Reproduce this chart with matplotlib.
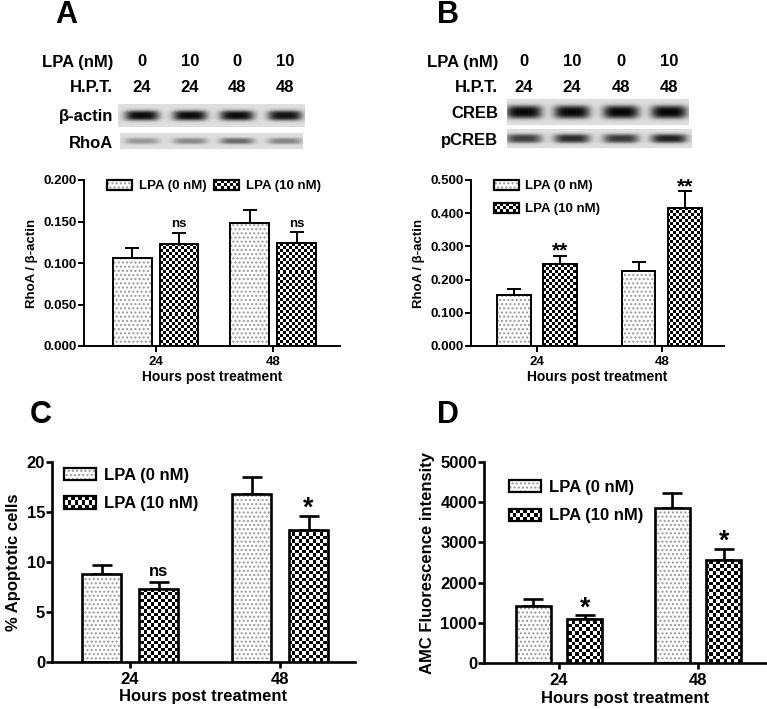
import numpy as np
import matplotlib.pyplot as plt
from matplotlib.patches import Patch, Rectangle
from matplotlib.legend_handler import HandlerBase

plt.rcParams['font.family'] = ['Liberation Sans', 'DejaVu Sans']
plt.rcParams['font.weight'] = 'bold'
plt.rcParams['hatch.linewidth'] = 1.0

# ---- data ----
groups = ['24', '48']
series = ['LPA (0 nM)', 'LPA (10 nM)']

rhoa_0 = [0.106, 0.148]
rhoa_0_err = [0.012, 0.016]
rhoa_10 = [0.123, 0.124]
rhoa_10_err = [0.013, 0.013]
rhoa_marks = ['ns', 'ns']

pcreb_0 = [0.155, 0.226]
pcreb_0_err = [0.018, 0.026]
pcreb_10 = [0.246, 0.417]
pcreb_10_err = [0.026, 0.049]
pcreb_marks = ['**', '**']

apop_0 = [8.8, 16.8]
apop_0_err = [0.95, 1.75]
apop_10 = [7.3, 13.2]
apop_10_err = [0.75, 1.45]
apop_marks = ['ns', '*']

amc_0 = [1420, 3860]
amc_0_err = [160, 380]
amc_10 = [1085, 2555]
amc_10_err = [100, 275]
amc_marks = ['*', '*']

lanes_lpa = ['0', '10', '0', '10']
lanes_hpt = ['24', '24', '48', '48']
actin_bands = [0.95, 0.95, 0.95, 0.92]
rhoa_bands = [0.32, 0.38, 0.52, 0.40]
creb_bands = [0.97, 0.97, 0.97, 0.97]
pcreb_bands = [0.72, 0.80, 0.74, 0.85]

W, H = 767, 709
fig = plt.figure(figsize=(W / 100, H / 100), dpi=100)


def px_axes(x0, y0, x1, y1):
    return fig.add_axes([x0 / W, 1 - y1 / H, (x1 - x0) / W, (y1 - y0) / H])


def px_text(x, y, s, **kw):
    fig.text(x / W, 1 - y / H, s, va='center', fontweight='bold', **kw)


def blot(x0, y0, x1, y1, lane_px, bands, half_w, half_h, bg=0.87):
    ax = px_axes(x0, y0, x1, y1)
    w, h = x1 - x0, y1 - y0
    xx, yy = np.meshgrid(np.arange(w) + 0.5, np.arange(h) + 0.5)
    img = np.full((h, w), bg)
    for c, k in zip(lane_px, bands):
        prof = np.exp(-np.abs((xx - (c - x0)) / half_w) ** 4) * np.exp(-np.abs((yy - h / 2) / half_h) ** 3)
        img = img - k * bg * prof
    ax.imshow(img, cmap='gray', vmin=0, vmax=1, aspect='auto', interpolation='bilinear')
    ax.axis('off')


class Swatch(HandlerBase):
    def __init__(self, kind, sq):
        super().__init__()
        self.kind = kind
        self.sq = sq

    def create_artists(self, legend, orig_handle, xdescent, ydescent, width, height, fontsize, trans):
        x0, y0 = -xdescent, -ydescent
        arts = []
        if self.kind == 'dots':
            arts.append(Rectangle((x0, y0), width, height, facecolor='white', edgecolor='#999999',
                                  hatch='....', lw=0, transform=trans))
        else:
            arts.append(Rectangle((x0, y0), width, height, facecolor='white', lw=0, transform=trans))
            nx = max(1, int(round(width / self.sq)))
            ny = max(1, int(round(height / self.sq)))
            sx, sy = width / nx, height / ny
            for i in range(nx):
                for j in range(ny):
                    if (i + j) % 2 == 0:
                        arts.append(Rectangle((x0 + i * sx, y0 + j * sy), sx, sy, facecolor='black',
                                              lw=0, transform=trans))
        arts.append(Rectangle((x0, y0), width, height, fill=False, edgecolor='black', lw=1.6, transform=trans))
        return arts


def bar_panel(ax, v0, e0, v1, e1, marks, ymax, step, fmt, off, w, xlim, fs, lw, cap, sq, xlab_fs,
              leg_anchor, leg_ncol, leg_fs):
    x = np.arange(len(groups))
    zeros = np.zeros(len(groups))
    ax.errorbar(x - off, v0, yerr=[zeros, e0], fmt='none', ecolor='black', elinewidth=lw,
                capsize=cap, capthick=lw, zorder=1)
    ax.errorbar(x + off, v1, yerr=[zeros, e1], fmt='none', ecolor='black', elinewidth=lw,
                capsize=cap, capthick=lw, zorder=1)
    ax.bar(x - off, v0, w, color='white', edgecolor='#999999', hatch='....', linewidth=0, zorder=2)
    ax.bar(x - off, v0, w, fill=False, edgecolor='black', linewidth=lw, zorder=4)
    fills = ax.bar(x + off, v1, w, color='white', linewidth=0, zorder=2)
    ax.set_xlim(xlim)
    ax.set_ylim(0, ymax)
    pos = ax.get_position()
    nx = int(pos.width * W / sq)
    ny = int(pos.height * H / sq)
    checker = np.add.outer(np.arange(ny), np.arange(nx)) % 2
    for b in fills:
        im = ax.imshow(checker, cmap='gray', vmin=0, vmax=1, extent=(xlim[0], xlim[1], 0, ymax),
                       aspect='auto', interpolation='nearest', zorder=3)
        im.set_clip_path(b)
    ax.bar(x + off, v1, w, fill=False, edgecolor='black', linewidth=lw, zorder=4)
    ax.set_xlim(xlim)
    ax.set_ylim(0, ymax)
    for xi, v, e, m in zip(x + off, v1, e1, marks):
        if '*' in m:
            ax.annotate(m, (xi, v + e), xytext=(0, -fs * 0.35), textcoords='offset points', ha='center',
                        va='bottom', fontsize=fs * 1.6, fontweight='bold')
        else:
            ax.annotate(m, (xi, v + e), xytext=(0, 2), textcoords='offset points', ha='center',
                        va='bottom', fontsize=fs, fontweight='bold')
    ax.set_yticks(np.arange(0, ymax + step / 2, step))
    ax.set_yticklabels([fmt % t for t in np.arange(0, ymax + step / 2, step)])
    ax.set_xticks(x)
    ax.set_xticklabels(groups)
    for s in ['top', 'right']:
        ax.spines[s].set_visible(False)
    for s in ['left', 'bottom']:
        ax.spines[s].set_linewidth(lw)
    ax.tick_params(axis='y', length=4, width=lw, pad=1, labelsize=fs)
    ax.tick_params(axis='x', length=4, width=lw, pad=3, labelsize=fs)
    ax.set_xlabel('Hours post treatment', fontsize=xlab_fs, fontweight='bold', labelpad=2)
    h0 = Patch(label=series[0])
    h1 = Patch(label=series[1])
    ax.legend(handles=[h0, h1], handler_map={h0: Swatch('dots', sq), h1: Swatch('checker', sq * 0.75)},
              loc='upper left', bbox_to_anchor=leg_anchor, ncol=leg_ncol, frameon=False,
              fontsize=leg_fs, borderpad=0, borderaxespad=0, handlelength=1.9, handleheight=0.75,
              handletextpad=0.5, columnspacing=0.6, labelspacing=0.8)


# ---- panel letters ----
for lab, x, y in [('A', 55, 15), ('B', 437, 15), ('C', 30, 415), ('D', 437, 415)]:
    px_text(x, y, lab, fontsize=22, ha='left')

# ---- blots ----
lanesA = [142, 190, 237, 285]
lanesB = [524, 572, 621, 669]
for lanes, rx in [(lanesA, 113), (lanesB, 498)]:
    px_text(rx, 62, 'LPA (nM)', fontsize=12, ha='right')
    px_text(rx, 87, 'H.P.T.', fontsize=12, ha='right')
    for c, a, t in zip(lanes, lanes_lpa, lanes_hpt):
        px_text(c, 62, a, fontsize=12, ha='center')
        px_text(c, 87, t, fontsize=12, ha='center')

px_text(113, 116, 'β-actin', fontsize=12, ha='right')
px_text(113, 143, 'RhoA', fontsize=12, ha='right')
px_text(498, 113, 'CREB', fontsize=12, ha='right')
px_text(498, 141, 'pCREB', fontsize=12, ha='right')

blot(118, 104, 305, 127, lanesA, actin_bands, 17, 5.0)
blot(120, 133, 303, 149, lanesA, rhoa_bands, 17, 3.2)
blot(507, 99, 689, 125, lanesB, creb_bands, 18, 6.5)
blot(507, 129, 692, 148, lanesB, pcreb_bands, 18, 4.5)

# ---- bar charts ----
axA = px_axes(84, 180, 340, 346)
bar_panel(axA, rhoa_0, rhoa_0_err, rhoa_10, rhoa_10_err, rhoa_marks, 0.2, 0.05, '%.3f',
          0.2, 0.33, (-0.61, 1.57), 9.5, 1.4, 5, 3, 10, (0.09, 1.0), 2, 9.5)
axA.set_ylabel('RhoA / β-actin', fontsize=9.5, fontweight='bold', labelpad=4)

axB = px_axes(471, 180, 724, 346)
bar_panel(axB, pcreb_0, pcreb_0_err, pcreb_10, pcreb_10_err, pcreb_marks, 0.5, 0.1, '%.3f',
          0.185, 0.27, (-0.53, 1.5), 9.5, 1.4, 5, 3, 10, (0.09, 1.0), 1, 9.5)
axB.set_ylabel('RhoA / β-actin', fontsize=9.5, fontweight='bold', labelpad=4)

axC = px_axes(52, 462, 355, 662)
bar_panel(axC, apop_0, apop_0_err, apop_10, apop_10_err, apop_marks, 20, 5, '%d',
          0.19, 0.26, (-0.52, 1.5), 12, 1.9, 7, 3.5, 12, (0.04, 0.97), 1, 12)
axC.set_ylabel('% Apoptotic cells', fontsize=12, fontweight='bold', labelpad=4)

axD = px_axes(484, 462, 766, 663)
bar_panel(axD, amc_0, amc_0_err, amc_10, amc_10_err, amc_marks, 5000, 1000, '%d',
          0.185, 0.25, (-0.54, 1.49), 12, 1.9, 7, 3.5, 12, (0.09, 0.91), 1, 12)
axD.set_ylabel('AMC Fluorescence intensity', fontsize=12, fontweight='bold', labelpad=4)

fig.savefig('out.png', dpi=100)
